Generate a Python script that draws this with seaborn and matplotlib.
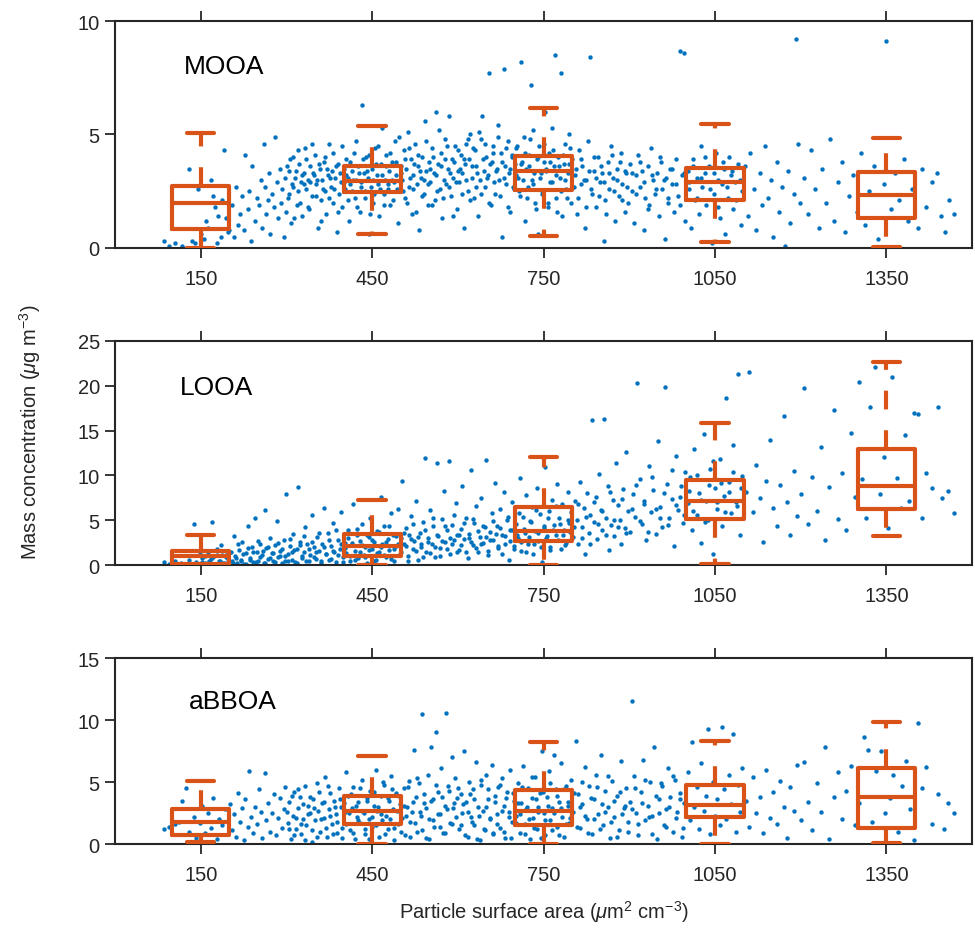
#!/usr/bin/env python3
# OA factor mass concentration vs particle surface area, with binned box plots

import numpy as np
import pandas as pd
import matplotlib
matplotlib.use('Agg')
import matplotlib.pyplot as plt
import seaborn as sns

# bins and panels
bin_centres = [150, 450, 750, 1050, 1350]
panel_names = ['MOOA', 'LOOA', 'aBBOA']
y_tops = [10, 25, 15]

# box stats: (lower whisker, q1, median, q3, upper whisker)
mooa_box = [(0.0, 0.84, 2.0, 2.73, 5.06), (0.62, 2.45, 2.97, 3.6, 5.38),
            (0.52, 2.56, 3.38, 4.05, 6.16), (0.26, 2.11, 2.9, 3.52, 5.46),
            (0.04, 1.32, 2.35, 3.34, 4.84)]
looa_box = [(0.0, 0.1, 1.0, 1.6, 3.4), (0.0, 1.04, 2.16, 3.46, 7.25),
            (0.0, 2.72, 3.83, 6.43, 12.1), (0.1, 5.13, 7.1, 9.52, 15.9),
            (3.27, 6.2, 8.85, 13.0, 22.6)]
abboa_box = [(0.2, 0.75, 1.75, 2.82, 5.1), (0.0, 1.6, 2.69, 3.85, 7.1),
             (0.0, 1.53, 2.69, 4.38, 8.25), (0.0, 2.15, 3.16, 4.76, 8.27),
             (0.08, 1.29, 3.76, 6.13, 9.81)]

# scatter points (surface area, concentration)
mooa_pts = [
    (85,0.3),(95,0.1),(105,0.2),(118,0.1),(125,0.0),(135,0.3),(140,0.2),(150,0.6),(155,0.4),(160,1.2),(162,0.9),(168,3.0),
    (172,2.3),(175,1.8),(180,1.4),(185,0.5),(190,4.3),(195,1.3),(198,0.7),(130,3.5),(145,2.6),(188,2.1),(200,0.8),(178,0.2),
    (205,1.9),(208,0.5),(212,2.7),(215,1.0),(218,1.5),(222,2.3),(225,0.8),(228,4.1),(232,1.7),(235,2.5),(238,0.3),(240,3.6),
    (245,1.2),(248,2.2),(252,1.9),(255,3.0),(258,0.9),(260,4.6),(262,2.7),(265,1.5),(268,2.1),(270,3.3),(272,0.6),(275,2.4),
    (278,1.8),(280,4.9),(283,2.9),(285,1.3),(288,3.5),(290,2.0),(293,2.6),(295,0.5),(298,3.1),(300,1.6),
    (303,2.2),(305,3.4),(308,1.1),(310,2.8),(312,4.0),(315,3.1),(318,1.9),(320,2.5),(322,3.7),(325,2.9),(328,1.4),(330,3.3),
    (332,4.4),(335,2.6),(338,3.0),(340,1.7),(342,3.6),(345,2.3),(348,3.2),(350,4.1),(352,2.8),(355,0.9),(358,3.5),(360,2.1),
    (362,3.0),(365,3.8),(368,2.5),(370,1.5),(372,3.2),(375,4.6),(378,2.7),(380,3.4),(382,2.0),(385,3.1),(388,0.7),(390,3.7),
    (392,2.4),(395,2.9),(398,1.8),(400,3.5),
    (402,2.6),(405,3.9),(408,3.1),(410,1.2),(412,2.8),(415,3.4),(418,4.2),(420,2.2),(422,3.0),(425,3.6),(428,1.6),(430,2.9),
    (432,6.3),(435,3.3),(438,2.5),(440,4.0),(442,3.1),(445,0.6),(448,2.7),(450,3.5),(452,2.0),(455,4.4),(458,3.2),(460,2.8),
    (462,1.4),(465,3.7),(468,5.3),(470,2.4),(472,3.0),(475,4.1),(478,2.6),(480,3.4),(482,1.9),(485,3.8),(488,2.9),(490,4.7),
    (492,3.2),(495,1.1),(498,2.5),(500,3.6),
    (502,3.0),(505,4.3),(508,2.2),(510,3.5),(512,5.1),(515,2.7),(518,3.9),(520,1.5),(522,3.2),(525,4.6),(528,2.8),(530,3.6),
    (532,0.8),(535,3.1),(538,4.0),(540,2.4),(542,5.6),(545,3.4),(548,1.9),(550,3.8),(552,2.9),(555,4.4),(558,3.3),(560,2.1),
    (562,6.0),(565,3.7),(568,2.6),(570,4.2),(572,1.3),(575,3.0),(578,4.8),(580,2.8),(582,3.5),(585,5.8),(588,2.3),(590,3.9),
    (592,3.1),(595,4.5),(598,1.7),(600,3.4),
    (602,2.9),(605,4.1),(608,3.3),(610,0.9),(612,3.7),(615,4.6),(618,2.5),(620,3.9),(622,5.0),(625,3.1),(628,2.2),(630,4.3),
    (632,3.6),(635,1.4),(638,3.0),(640,4.8),(642,5.8),(645,3.4),(648,2.7),(650,4.0),(652,3.2),(655,7.7),(658,1.9),(660,3.8),
    (662,4.5),(665,2.4),(668,3.5),(670,5.4),(672,3.0),(675,4.2),(678,0.5),(680,7.9),(682,3.6),(685,2.8),(688,4.7),(690,3.3),
    (692,1.6),(695,4.0),(698,2.6),(700,3.7),
    (702,4.4),(705,3.1),(708,2.3),(710,8.2),(712,3.8),(715,4.9),(718,1.2),(720,3.5),(722,2.7),(725,4.1),(728,7.2),(730,3.0),
    (732,5.2),(735,2.0),(738,3.9),(740,0.6),(742,4.5),(745,3.3),(748,2.5),(750,3.8),(752,6.0),(755,3.4),(758,1.8),(760,4.2),
    (762,2.9),(765,5.3),(768,3.6),(770,8.5),(772,2.2),(775,4.0),(778,3.1),(780,7.7),(782,1.4),(785,3.7),(788,4.6),(790,2.6),
    (792,3.3),(795,5.0),(798,2.0),(800,3.9),
    (805,3.2),(808,1.5),(812,4.3),(815,2.8),(818,3.6),(822,0.9),(825,3.0),(828,4.7),(832,8.4),(835,2.4),(838,3.4),(842,1.8),
    (845,4.0),(848,2.9),(852,3.3),(855,0.3),(858,2.1),(862,3.8),(865,2.6),(868,4.5),(872,3.1),(875,1.2),(878,3.5),(882,2.3),
    (885,4.2),(888,2.8),(892,1.6),(895,3.3),(898,2.0),
    (902,3.7),(905,2.5),(908,1.1),(912,3.2),(915,4.1),(918,2.7),(922,3.4),(925,0.8),(928,2.2),(932,3.6),(935,1.9),(938,4.4),
    (942,3.0),(945,2.4),(948,3.3),(952,1.4),(955,3.8),(958,2.6),(962,0.4),(965,3.1),(968,2.0),(972,3.5),(975,2.8),(978,1.6),
    (982,3.9),(985,2.3),(988,8.7),(992,3.2),(995,8.6),(998,1.2),
    (1002,3.4),(1005,2.6),(1008,0.9),(1012,3.9),(1015,2.1),(1018,3.1),(1022,1.5),(1025,4.5),(1028,2.7),(1032,3.3),(1035,1.9),
    (1040,3.6),(1045,0.2),(1048,2.4),(1052,4.2),(1055,3.0),(1058,1.3),(1062,2.8),(1065,3.5),(1068,0.6),(1072,2.2),(1075,4.0),
    (1078,3.2),(1082,1.7),(1085,2.9),(1090,3.7),(1095,1.0),(1098,2.5),
    (1102,3.6),(1108,1.4),(1112,4.2),(1118,2.6),(1122,0.8),(1128,3.3),(1132,1.9),(1138,4.5),(1142,2.2),(1148,3.0),(1152,0.5),
    (1158,3.8),(1162,1.6),(1168,2.7),(1172,0.1),(1178,3.4),(1182,1.1),(1188,2.4),(1192,9.2),(1195,4.6),(1198,2.0),
    (1205,3.1),(1212,1.5),(1218,4.3),(1225,2.6),(1232,0.9),(1238,3.5),(1245,2.0),(1252,4.8),(1258,1.2),(1265,2.9),(1272,3.8),
    (1278,0.7),(1285,2.3),(1292,3.2),(1298,1.6),
    (1305,4.2),(1312,1.0),(1320,2.5),(1328,3.6),(1335,0.4),(1345,2.8),(1350,9.1),(1358,1.7),(1365,3.3),(1372,2.1),(1380,3.9),
    (1388,1.2),(1395,2.6),(1405,0.9),(1412,3.5),(1420,1.8),(1430,2.9),(1438,3.3),(1445,1.4),(1452,0.7),(1460,2.1),(1468,1.5),
]

# the dense middle band of the MOOA cloud
mooa_core_pts = [
    (301,3.6),(304,2.4),(307,3.9),(311,2.7),(314,1.3),(317,3.4),(321,4.3),(324,2.0),(327,3.2),(331,2.8),(334,3.9),(337,1.8),
    (341,2.9),(344,4.6),(347,3.3),(351,2.3),(354,3.0),(357,3.7),(361,1.2),(364,2.6),(367,4.0),(371,3.5),(374,2.2),(377,3.1),
    (381,4.2),(384,2.6),(387,3.6),(391,1.6),(394,3.3),(397,4.5),
    (401,2.9),(404,3.2),(407,2.1),(411,3.8),(414,2.5),(417,3.0),(421,4.7),(424,1.8),(427,3.3),(431,2.7),(434,3.9),(437,2.2),
    (441,3.4),(444,4.1),(447,1.5),(451,3.0),(454,2.4),(457,3.7),(461,4.5),(464,2.6),(467,3.2),(471,1.9),(474,3.6),(477,2.8),
    (481,4.2),(484,3.0),(487,2.1),(491,3.8),(494,2.6),(497,4.9),
    (501,3.3),(504,2.5),(507,3.9),(511,2.0),(514,4.4),(517,3.1),(521,2.6),(524,3.7),(527,1.6),(531,4.1),(534,3.4),(537,2.3),
    (541,3.0),(544,4.7),(547,2.8),(551,3.5),(554,1.9),(557,4.0),(561,3.2),(564,2.5),(567,5.2),(571,3.6),(574,2.2),(577,3.9),
    (581,4.5),(584,2.7),(587,3.3),(591,1.4),(594,3.8),(597,2.9),
    (601,4.3),(604,3.5),(607,2.4),(611,3.9),(614,3.0),(617,4.8),(621,2.1),(624,3.6),(627,4.4),(631,2.7),(634,3.3),(637,5.1),
    (641,2.4),(644,3.9),(647,4.6),(651,3.1),(654,2.0),(657,3.7),(661,4.2),(664,2.9),(667,3.4),(671,4.9),(674,2.3),(677,3.8),
    (681,3.1),(684,4.4),(687,1.8),(691,3.5),(694,4.1),(697,2.7),
    (701,3.2),(704,4.5),(707,2.5),(711,3.7),(714,3.0),(717,4.2),(721,2.2),(724,3.6),(727,4.8),(731,2.8),(734,3.3),(737,1.7),
    (741,4.0),(744,3.1),(747,2.4),(751,4.6),(754,3.5),(757,2.0),(761,3.8),(764,2.9),(767,4.3),(771,3.2),(774,1.6),(777,3.6),
    (781,2.5),(784,4.1),(787,3.0),(791,2.2),(794,3.7),(797,4.4),
    (803,2.7),(807,3.5),(811,2.2),(816,3.9),(820,3.0),(824,1.8),(829,3.4),(833,2.6),(838,4.0),(842,3.1),(847,2.3),(851,3.6),
    (856,2.9),(860,1.5),(865,3.3),(869,4.1),(874,2.5),(878,3.0),(883,3.8),(887,2.1),(892,3.4),(896,2.7),
    (905,3.3),(912,2.4),(919,3.8),(926,2.9),(933,1.7),(940,3.2),(947,2.6),(954,4.0),(961,3.0),(968,2.2),(975,3.5),(982,2.8),
    (989,1.9),(996,3.3),
    (1004,2.9),(1011,3.6),(1018,2.2),(1026,3.1),(1033,4.0),(1041,2.6),(1048,3.3),(1056,1.8),(1064,3.8),(1071,2.7),(1079,3.4),
    (1087,2.1),(1094,3.0),
]

looa_pts = [
    (85,0.3),(95,0.1),(105,0.4),(115,0.2),(125,0.1),(130,0.6),(138,4.6),(142,0.3),(148,1.2),(152,0.8),(158,0.2),(162,1.5),
    (165,0.5),(170,4.8),(172,0.9),(178,1.8),(182,0.4),(185,2.2),(188,1.1),(192,0.2),(195,1.6),(198,0.7),(200,1.3),
    (205,0.4),(208,3.2),(210,1.0),(214,0.2),(217,1.7),(220,0.6),(223,2.6),(226,0.1),(230,1.3),(233,4.4),(236,0.8),(239,2.0),
    (242,0.3),(245,5.3),(248,1.5),(251,0.5),(254,2.4),(257,1.1),(260,0.2),(262,6.1),(265,1.9),(268,0.7),(271,3.0),(274,1.3),
    (277,0.4),(280,2.2),(283,4.9),(286,0.9),(289,1.6),(292,0.2),(295,2.8),(298,1.0),(300,7.9),
    (303,0.5),(306,2.1),(309,1.4),(312,3.5),(315,0.3),(318,1.8),(321,8.7),(324,2.6),(327,0.8),(330,1.5),(333,4.2),(336,2.3),
    (339,0.4),(342,1.1),(345,5.6),(348,2.0),(351,0.7),(354,3.1),(357,1.6),(360,0.2),(363,2.4),(366,6.4),(369,1.2),(372,3.6),
    (375,0.6),(378,2.1),(381,4.7),(384,1.4),(387,0.3),(390,2.8),(393,1.8),(396,5.9),(399,0.9),
    (402,2.5),(405,1.3),(408,3.9),(411,0.5),(414,2.2),(417,6.8),(420,1.6),(423,3.3),(426,0.8),(429,2.7),(432,4.6),(435,1.1),
    (438,2.0),(441,0.2),(444,3.1),(447,5.2),(450,1.8),(453,2.6),(456,0.6),(459,3.8),(462,1.4),(465,7.6),(468,2.3),(471,4.3),
    (474,0.9),(477,2.9),(480,1.7),(483,5.8),(486,3.4),(489,0.4),(492,2.1),(495,6.3),(498,1.2),(500,3.0),
    (503,9.4),(506,2.4),(509,4.1),(512,1.0),(515,3.3),(518,5.5),(521,1.8),(524,2.7),(527,7.2),(530,0.6),(533,3.6),(536,2.0),
    (539,4.8),(542,11.9),(545,1.4),(548,3.0),(551,6.1),(554,2.3),(557,4.4),(560,0.9),(563,11.4),(566,3.2),(569,1.9),(572,5.1),
    (575,8.3),(578,2.6),(581,3.9),(584,11.6),(587,1.2),(590,4.5),(593,2.8),(596,6.9),(599,3.4),
    (602,1.7),(605,4.0),(608,8.8),(611,2.9),(614,5.3),(617,0.8),(620,3.5),(623,10.6),(626,2.2),(629,4.7),(632,6.6),(635,1.5),
    (638,3.1),(641,7.5),(644,2.5),(647,4.2),(650,11.7),(653,1.1),(656,3.7),(659,5.8),(662,2.8),(665,9.1),(668,4.4),(671,1.9),
    (674,6.2),(677,3.3),(680,8.1),(683,2.4),(686,5.0),(689,0.6),(692,3.9),(695,7.0),(698,2.1),
    (702,4.6),(705,3.0),(708,9.7),(711,1.6),(714,5.4),(717,3.6),(720,7.8),(723,2.3),(726,4.9),(729,6.5),(732,1.2),(735,3.8),
    (738,8.6),(741,2.7),(744,5.7),(747,0.3),(750,4.1),(753,10.9),(756,3.2),(759,6.0),(762,2.0),(765,7.3),(768,4.5),(771,3.4),
    (774,9.0),(777,5.2),(780,1.8),(783,6.8),(786,3.9),(789,2.5),(792,8.2),(795,4.7),(798,5.9),
    (802,3.1),(805,7.1),(808,5.0),(811,2.4),(814,9.3),(817,4.2),(820,6.4),(823,1.2),(826,8.0),(829,3.6),(832,5.6),(835,16.2),
    (838,4.8),(841,7.6),(844,2.9),(847,10.2),(850,6.1),(853,3.9),(856,16.3),(859,5.3),(862,8.8),(865,1.7),(868,4.5),(871,7.3),
    (874,3.2),(877,11.4),(880,6.7),(883,5.0),(886,2.3),(889,8.5),(892,4.1),(895,12.6),(898,6.0),
    (902,3.7),(906,7.9),(910,5.4),(914,20.3),(918,9.6),(922,4.6),(926,6.8),(930,2.8),(934,11.1),(938,5.9),(942,8.4),(946,3.5),
    (950,13.8),(954,6.5),(958,4.2),(962,19.9),(966,9.0),(970,5.2),(974,7.4),(978,2.1),(982,12.2),(986,6.1),(990,8.8),(994,4.7),
    (998,10.4),
    (1002,6.9),(1006,9.8),(1010,3.9),(1014,12.9),(1018,5.6),(1022,8.0),(1026,2.5),(1030,14.6),(1034,7.2),(1038,5.0),(1042,10.7),
    (1046,1.2),(1050,8.6),(1054,6.3),(1058,11.8),(1062,4.4),(1066,7.7),(1070,18.6),(1074,9.3),(1078,5.8),(1082,13.4),(1086,7.0),
    (1090,21.3),(1094,3.3),(1098,9.9),
    (1104,8.1),(1110,21.5),(1116,5.9),(1122,11.2),(1128,7.5),(1134,2.6),(1140,9.4),(1146,13.9),(1152,6.4),(1158,4.3),(1164,8.9),
    (1170,16.6),(1176,7.0),(1182,3.4),(1188,10.5),(1194,5.5),(1200,7.9),
    (1206,19.8),(1212,4.6),(1220,9.8),(1228,6.0),(1235,13.2),(1242,2.8),(1250,8.7),(1258,17.3),(1265,5.1),(1272,10.3),(1280,3.9),
    (1288,14.7),(1295,7.6),
    (1302,20.4),(1308,9.6),(1315,5.2),(1322,17.6),(1330,22.1),(1338,7.9),(1345,12.0),(1352,4.1),(1360,21.0),(1368,9.7),(1375,6.4),
    (1382,14.5),(1390,7.1),(1398,17.0),(1405,16.8),(1412,5.3),(1420,10.3),(1430,8.6),(1440,17.6),(1448,7.5),(1458,8.3),(1468,5.8),
]

# the dense lower band of the LOOA cloud
looa_core_pts = [
    (152,0.3),(158,1.0),(163,0.2),(168,0.7),(174,0.1),(179,1.1),(184,0.5),(189,0.2),(194,0.9),(199,0.4),
    (203,1.5),(207,0.2),(211,0.8),(216,2.3),(220,0.4),(224,1.2),(229,0.1),(233,1.9),(237,0.6),(241,1.4),(246,0.3),(250,2.7),
    (254,0.9),(259,1.6),(263,0.2),(267,2.0),(272,0.8),(276,1.3),(280,0.3),(285,2.5),(289,1.0),(293,1.8),(298,0.5),
    (302,1.2),(306,2.9),(310,0.6),(314,1.7),(318,0.2),(323,2.2),(327,1.0),(331,3.2),(335,0.5),(340,1.8),(344,2.6),(348,0.9),
    (352,1.4),(357,3.6),(361,0.4),(365,2.0),(369,1.2),(374,2.8),(378,0.7),(382,1.6),(386,3.9),(391,1.1),(395,2.3),(399,0.3),
    (403,1.9),(407,3.0),(411,1.0),(415,2.5),(420,0.6),(424,4.0),(428,1.5),(432,2.2),(437,0.9),(441,3.4),(445,1.7),(449,2.8),
    (454,0.4),(458,1.3),(462,3.7),(466,2.0),(471,1.1),(475,2.6),(479,4.4),(483,0.7),(488,1.8),(492,3.2),(496,2.4),
    (501,1.4),(505,3.6),(509,2.1),(513,0.5),(518,2.9),(522,4.6),(526,1.6),(530,3.1),(535,2.3),(539,0.9),(543,3.9),(547,2.6),
    (552,1.3),(556,5.2),(560,2.0),(564,3.4),(569,1.0),(573,2.7),(577,4.3),(581,1.8),(586,3.0),(590,2.4),(594,5.6),(598,1.5),
    (602,3.3),(606,2.2),(610,4.7),(615,1.4),(619,3.0),(623,2.6),(627,5.1),(632,1.9),(636,3.8),(640,2.4),(644,4.3),(649,3.1),
    (653,1.6),(657,2.8),(661,4.9),(666,3.5),(670,2.1),(674,4.1),(678,1.2),(683,3.2),(687,5.4),(691,2.7),(695,3.9),(699,1.8),
    (703,3.4),(707,5.8),(711,2.6),(716,4.0),(720,1.5),(724,3.1),(728,4.8),(733,2.4),(737,6.1),(741,3.6),(745,2.0),(750,4.4),
    (754,3.0),(758,5.3),(762,1.7),(767,3.9),(771,6.6),(775,2.8),(779,4.6),(784,3.3),(788,2.2),(792,5.0),(796,3.7),
    (804,4.2),(811,6.8),(818,3.0),(825,5.4),(832,2.4),(839,7.0),(846,4.6),(853,6.0),(860,3.3),(867,8.1),(874,5.0),(881,4.2),
    (888,7.4),(895,3.6),
    (904,6.3),(911,8.9),(918,4.9),(925,7.1),(932,3.7),(939,9.8),(946,6.2),(953,5.3),(960,8.0),(967,4.5),(974,10.6),(981,6.7),
    (988,7.6),(995,5.6),
    (1004,8.3),(1011,6.0),(1018,10.1),(1025,7.3),(1032,4.8),(1039,8.9),(1046,11.6),(1053,7.0),(1060,9.2),(1067,5.9),(1074,8.1),
    (1081,10.4),(1088,6.6),(1095,8.6),
]

abboa_pts = [
    (85,1.2),(95,1.4),(105,1.6),(112,1.8),(118,3.5),(125,4.5),(130,1.0),(138,2.2),(142,0.5),(148,1.7),(152,3.1),(158,0.9),
    (162,2.5),(168,1.3),(172,3.7),(178,0.4),(182,2.0),(188,1.5),(192,2.8),(198,0.8),
    (202,3.2),(205,1.1),(208,2.4),(212,0.6),(215,4.1),(218,1.8),(222,2.9),(225,0.3),(228,3.6),(232,1.4),(235,5.9),(238,2.2),
    (242,0.9),(245,3.0),(248,1.6),(252,4.4),(255,2.6),(258,0.5),(262,5.7),(265,1.9),(268,3.3),(272,1.0),(275,2.5),(278,4.0),
    (282,0.7),(285,2.1),(288,3.7),(292,1.3),(295,2.8),(298,4.6),
    (302,1.7),(305,3.4),(308,0.4),(311,2.3),(314,4.2),(317,1.2),(320,2.9),(323,3.8),(326,0.8),(329,2.0),(332,4.7),(335,1.5),
    (338,3.1),(341,2.5),(344,0.2),(347,3.6),(350,1.9),(353,4.9),(356,2.7),(359,1.0),(362,3.3),(365,2.1),(368,5.4),(371,0.6),
    (374,2.8),(377,4.1),(380,1.6),(383,3.5),(386,2.4),(389,0.9),(392,4.5),(395,3.0),(398,1.3),
    (402,2.6),(405,5.8),(408,3.9),(411,1.1),(414,2.9),(417,4.6),(420,0.4),(423,2.2),(426,3.4),(429,1.7),(432,5.2),(435,2.5),
    (438,0.8),(441,3.7),(444,2.0),(447,4.3),(450,1.4),(453,3.1),(456,6.0),(459,2.7),(462,0.6),(465,3.9),(468,1.9),(471,4.8),
    (474,2.3),(477,1.2),(480,3.5),(483,5.5),(486,2.8),(489,0.3),(492,4.1),(495,1.6),(498,3.2),
    (502,2.1),(505,4.5),(508,0.7),(511,3.0),(514,5.1),(517,1.8),(520,2.6),(523,7.6),(526,3.8),(529,1.0),(532,4.9),(535,2.3),
    (538,10.5),(541,3.3),(544,0.5),(547,5.6),(550,2.0),(553,7.8),(556,3.6),(559,1.4),(562,9.0),(565,4.2),(568,2.4),(571,6.1),
    (574,0.9),(577,3.1),(580,10.6),(583,4.7),(586,1.7),(589,7.0),(592,2.9),(595,5.3),(598,3.7),
    (602,1.2),(605,4.0),(608,2.5),(611,7.5),(614,3.4),(617,0.6),(620,5.0),(623,2.2),(626,4.4),(629,1.5),(632,6.6),(635,3.0),
    (638,0.3),(641,4.8),(644,2.7),(647,1.1),(650,5.6),(653,3.6),(656,2.0),(659,6.4),(662,0.8),(665,3.9),(668,2.4),(671,4.6),
    (674,1.3),(677,5.3),(680,3.1),(683,0.5),(686,4.2),(689,2.6),(692,6.0),(695,1.8),(698,3.5),
    (702,2.3),(705,4.9),(708,0.9),(711,3.3),(714,6.3),(717,1.6),(720,2.8),(723,4.5),(726,0.4),(729,3.7),(732,2.1),(735,5.4),
    (738,1.2),(741,3.0),(744,4.1),(747,7.5),(750,2.5),(753,0.7),(756,3.8),(759,5.9),(762,1.9),(765,2.9),(768,7.2),(771,4.4),
    (774,1.4),(777,3.4),(780,6.5),(783,2.2),(786,0.6),(789,4.7),(792,3.1),(795,1.7),(798,5.2),
    (802,2.6),(806,8.3),(810,4.0),(814,1.3),(818,3.2),(822,6.2),(826,2.0),(830,4.7),(834,0.8),(838,3.6),(842,5.6),(846,2.4),
    (850,7.2),(854,1.5),(858,4.3),(862,3.0),(866,0.5),(870,5.1),(874,2.2),(878,3.9),(882,1.1),(886,6.7),(890,2.9),(894,4.5),
    (898,1.8),
    (902,3.4),(905,11.5),(908,5.5),(912,2.5),(916,0.7),(920,4.2),(924,6.8),(928,1.9),(932,3.1),(936,5.0),(940,2.3),(944,7.8),
    (948,0.4),(952,3.6),(956,4.9),(960,1.5),(964,2.8),(968,6.1),(972,3.8),(976,1.0),(980,5.2),(984,2.6),(988,4.1),(992,0.6),
    (996,3.3),
    (1002,5.8),(1006,1.9),(1010,8.2),(1014,3.0),(1018,4.6),(1022,1.2),(1026,6.5),(1030,2.7),(1034,3.9),(1038,9.3),(1042,0.8),
    (1046,5.0),(1050,2.3),(1054,3.6),(1058,1.5),(1062,9.4),(1066,4.4),(1070,2.0),(1074,5.6),(1078,3.2),(1082,8.9),(1086,1.0),
    (1090,4.8),(1094,2.6),(1098,6.1),
    (1104,3.5),(1110,1.4),(1116,5.4),(1122,2.5),(1128,3.8),(1134,0.9),(1140,6.0),(1146,2.1),(1152,4.2),(1158,1.6),(1164,5.1),
    (1170,3.0),(1176,0.5),(1182,4.6),(1188,2.7),(1194,6.4),(1200,1.9),
    (1206,6.6),(1212,3.4),(1220,1.1),(1228,4.9),(1235,2.6),(1242,7.8),(1250,0.4),(1258,3.8),(1265,5.8),(1272,2.0),(1280,4.3),
    (1288,6.3),(1295,1.5),
    (1302,3.3),(1310,8.6),(1318,7.6),(1325,1.8),(1332,5.9),(1340,7.5),(1348,2.5),(1356,3.7),(1362,5.6),(1370,1.0),(1378,4.7),
    (1385,6.7),(1392,2.8),(1398,0.3),(1405,9.8),(1412,4.5),(1420,6.2),(1430,1.6),(1440,4.0),(1450,1.2),(1458,3.3),(1468,2.5),
]

# the dense lower band of the aBBOA cloud
abboa_core_pts = [
    (301,2.6),(305,1.2),(309,3.9),(313,0.7),(317,2.1),(321,4.4),(325,1.6),(329,3.2),(333,0.3),(337,2.4),(341,3.8),(345,1.1),
    (349,2.9),(353,0.6),(357,4.2),(361,2.0),(365,3.4),(369,1.3),(373,4.7),(377,2.3),(381,0.8),(385,3.0),(389,1.8),(393,3.6),
    (397,0.5),
    (401,3.3),(405,1.6),(409,2.5),(413,4.0),(417,0.9),(421,3.1),(425,1.9),(429,4.5),(433,2.7),(437,1.2),(441,3.5),(445,0.4),
    (449,2.2),(453,4.2),(457,1.5),(461,3.0),(465,2.4),(469,5.0),(473,0.8),(477,3.7),(481,2.0),(485,4.4),(489,1.3),(493,2.7),
    (497,3.9),
    (501,1.0),(505,3.1),(509,2.3),(513,4.6),(517,0.6),(521,3.4),(525,1.7),(529,5.3),(533,2.6),(537,1.1),(541,4.0),(545,2.9),
    (549,0.4),(553,3.5),(557,1.9),(561,4.8),(565,2.4),(569,1.4),(573,3.8),(577,0.9),(581,2.8),(585,4.3),(589,1.6),(593,3.3),
    (597,2.2),
    (601,4.5),(605,1.5),(609,3.2),(613,0.7),(617,2.6),(621,4.0),(625,1.8),(629,3.6),(633,0.4),(637,2.3),(641,5.2),(645,1.2),
    (649,3.0),(653,4.4),(657,2.1),(661,0.9),(665,3.4),(669,1.6),(673,4.8),(677,2.7),(681,1.0),(685,3.7),(689,2.2),(693,0.5),
    (697,4.1),
    (701,1.7),(705,3.3),(709,2.4),(713,4.6),(717,0.8),(721,3.0),(725,2.0),(729,5.4),(733,1.3),(737,3.6),(741,2.6),(745,0.5),
    (749,4.2),(753,1.9),(757,3.1),(761,4.9),(765,1.1),(769,2.5),(773,3.9),(777,0.7),(781,2.9),(785,4.4),(789,1.6),(793,3.4),
    (797,2.1),
    (803,4.1),(808,1.4),(813,3.0),(818,5.0),(823,2.3),(828,0.9),(833,3.7),(838,2.0),(843,4.6),(848,1.2),(853,3.2),(858,2.6),
    (863,5.5),(868,1.8),(873,3.5),(878,0.6),(883,4.2),(888,2.4),(893,3.1),(898,1.0),
    (904,2.8),(910,4.5),(916,1.6),(922,3.3),(928,5.2),(934,2.2),(940,0.8),(946,3.9),(952,2.5),(958,4.7),(964,1.4),(970,3.0),
    (976,5.5),(982,2.1),(988,3.6),(994,1.3),
]

# label positions inside each panel (data coords)
label_xy = [(120, 8.0), (113, 19.9), (129, 11.5)]

dot_blue = '#0072BD'
box_orange = '#D95319'
axis_grey = '#262626'

sns.set_style('ticks')
plt.rcParams['font.family'] = ['Liberation Sans', 'DejaVu Sans']
plt.rcParams['mathtext.fontset'] = 'custom'
plt.rcParams['mathtext.rm'] = 'Liberation Sans'
plt.rcParams['mathtext.it'] = 'Liberation Sans:italic'

fig = plt.figure(figsize=(9.75, 9.29), dpi=100)
axes_rects = [
    [0.118, 0.732, 0.879, 0.2443],
    [0.118, 0.3907, 0.879, 0.2412],
    [0.118, 0.0904, 0.879, 0.2002],
]

all_pts = [mooa_pts + mooa_core_pts, looa_pts + looa_core_pts, abboa_pts + abboa_core_pts]
all_boxes = [mooa_box, looa_box, abboa_box]

for rect, name, pts, boxes, ytop, (lx, ly) in zip(axes_rects, panel_names, all_pts,
                                                  all_boxes, y_tops, label_xy):
    ax = fig.add_axes(rect)
    df = pd.DataFrame(pts, columns=['area', 'conc'])
    sns.scatterplot(data=df, x='area', y='conc', ax=ax, s=10, color=dot_blue,
                    linewidth=0, legend=False, zorder=2)

    stats = [dict(whislo=lo, q1=q1, med=med, q3=q3, whishi=hi, fliers=[])
             for lo, q1, med, q3, hi in boxes]
    line = dict(color=box_orange, linewidth=3.0)
    ax.bxp(stats, positions=bin_centres, widths=100, capwidths=48,
           showfliers=False, manage_ticks=False, zorder=3,
           boxprops=line, medianprops=line, capprops=line,
           whiskerprops=dict(color=box_orange, linewidth=3.0, linestyle=(0, (4.5, 5))))

    ax.set_xlim(0, 1500)
    ax.set_ylim(0, ytop)
    ax.set_xticks(bin_centres)
    ax.set_yticks(np.arange(0, ytop + 1, 5))
    ax.set_xlabel('')
    ax.set_ylabel('')
    ax.tick_params(axis='x', top=True, bottom=True, direction='out', length=7,
                   width=1.3, color=axis_grey, labelsize=14.5, labelcolor=axis_grey, pad=8)
    ax.tick_params(axis='y', left=True, direction='out', length=7, width=1.3,
                   color=axis_grey, labelsize=14.5, labelcolor=axis_grey, pad=4)
    for sp in ax.spines.values():
        sp.set_visible(True)
        sp.set_color(axis_grey)
        sp.set_linewidth(1.5)

    ax.text(lx, ly, name, fontsize=19, ha='left', va='center', color='black')

fig.text(0.031, 0.535, r'Mass concentration ($\mu$g m$^{-3}$)', rotation=90,
         ha='center', va='center', fontsize=14.5, color=axis_grey)
fig.text(0.558, 0.018, r'Particle surface area ($\mu$m$^{2}$ cm$^{-3}$)',
         ha='center', va='center', fontsize=14.5, color=axis_grey)

fig.savefig('out.png', dpi=100)
print("Saved out.png")
